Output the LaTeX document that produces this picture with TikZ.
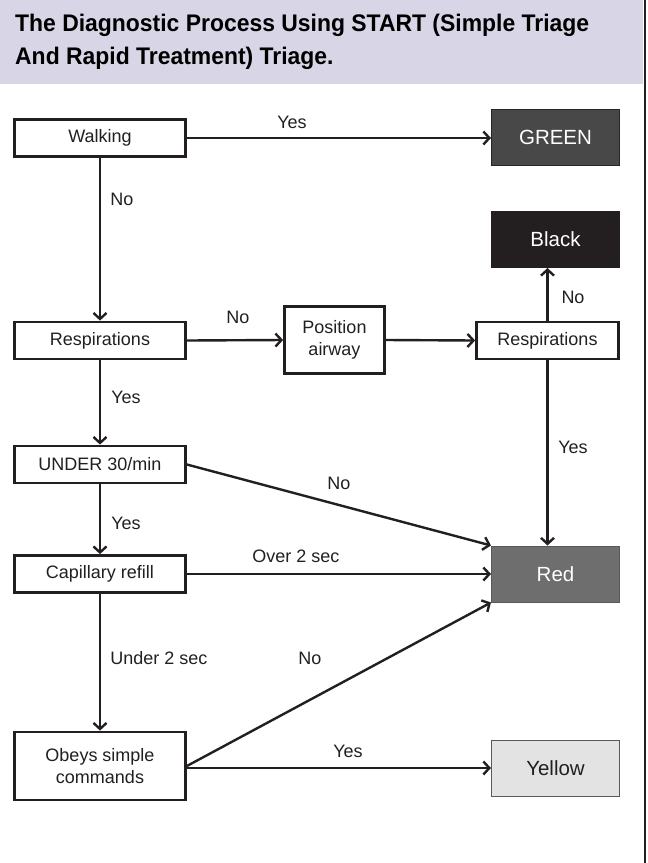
\documentclass[tikz,border=0pt]{standalone}
\usepackage{fontspec}
\setmainfont{Liberation Sans}
\newfontfamily\titlefont[FakeStretch=0.955]{Liberation Sans}
\usetikzlibrary{arrows.meta}
\definecolor{band}{HTML}{D8D6E6}
\definecolor{greenbox}{HTML}{484848}
\definecolor{blackbox}{HTML}{231F20}
\definecolor{redbox}{HTML}{6E6E6E}
\definecolor{yellowbox}{HTML}{E3E3E3}
\definecolor{ink}{HTML}{231F20}
\begin{document}
\begin{tikzpicture}[x=1pt,y=-1pt,
  wbox/.style={draw=ink, line width=2.8pt, fill=white, minimum width=171pt, minimum height=37pt, inner sep=2pt, align=center, font=\fontsize{18}{22}\selectfont, text=ink},
  cbox/.style={minimum width=128pt, minimum height=56pt, inner sep=2pt, line width=1pt, font=\fontsize{20.5}{24}\selectfont},
  lbl/.style={font=\fontsize{18}{22}\selectfont, text=ink, inner sep=0pt},
  arr/.style={draw=ink, line width=2.4pt, -{Straight Barb[length=6pt,width=13pt]}},
]
\useasboundingbox (0,0) rectangle (648,863);
\fill[band] (0,0) rectangle (643,84);
\fill[ink] (643.5,0) rectangle (646.2,863);
\node[anchor=base west, inner sep=0pt, font=\titlefont\bfseries\fontsize{24}{33}\selectfont, text=black] (t1) at (15,31) {The Diagnostic Process Using START (Simple Triage};
\node[anchor=base west, inner sep=0pt, font=\titlefont\bfseries\fontsize{24}{33}\selectfont, text=black] (t2) at (15,64) {And Rapid Treatment) Triage.};

% boxes
\node[wbox] (walk) at (100,138) {Walking};
\node[cbox, fill=greenbox, draw=black!85, text=white] (green) at (555.5,137.5) {GREEN};
\node[cbox, fill=blackbox, draw=blackbox, text=white] (blk) at (555.5,239.5) {Black};
\node[wbox] (resp) at (100,340.5) {Respirations};
\node[wbox, minimum width=100pt, minimum height=67pt] (pos) at (334.5,340) {Position\\airway};
\node[wbox, minimum width=142pt] (resp2) at (547.5,340.5) {Respirations};
\node[wbox] (under) at (100,464.5) {UNDER 30/min};
\node[cbox, fill=redbox, draw=black!65, text=white] (red) at (555.5,574) {Red};
\node[wbox] (cap) at (100,574) {Capillary refill};
\node[wbox, minimum height=68pt] (obeys) at (100,766) {Obeys simple\\commands};
\node[cbox, fill=yellowbox, draw=black!65, text=ink] (yellow) at (555.5,768) {Yellow};

% connectors
\draw[arr] (walk.east) -- (walk.east -| green.west);
\draw[arr] (walk.south) -- (resp.north);
\draw[arr] (resp.east) -- (pos.west);
\draw[arr] (pos.east) -- (resp2.west);
\draw[arr] (resp2.north) -- (resp2.north |- blk.south);
\draw[arr] (resp2.south) -- (resp2.south |- red.north);
\draw[arr] (resp.south) -- (under.north);
\draw[arr] (under.east) -- (red.north west);
\draw[arr] (under.south) -- (cap.north);
\draw[arr] (cap.east) -- (red.west);
\draw[arr] (cap.south) -- (obeys.north);
\draw[arr] (obeys.east) -- (red.south west);
\draw[arr] (yellow.west -| obeys.east) -- (yellow.west);

% labels
\node[lbl] (l1) at (292,122) {Yes};
\node[lbl] (l2) at (122,199) {No};
\node[lbl] (l3) at (238,317) {No};
\node[lbl] (l4) at (573,297) {No};
\node[lbl] (l5) at (126,397) {Yes};
\node[lbl] (l6) at (573,447) {Yes};
\node[lbl] (l7) at (339,483) {No};
\node[lbl] (l8) at (126,523) {Yes};
\node[lbl] (l9) at (296,556) {Over 2 sec};
\node[lbl] (l10) at (159,658) {Under 2 sec};
\node[lbl] (l11) at (310,658) {No};
\node[lbl] (l12) at (348,751) {Yes};
\end{tikzpicture}
\end{document}
